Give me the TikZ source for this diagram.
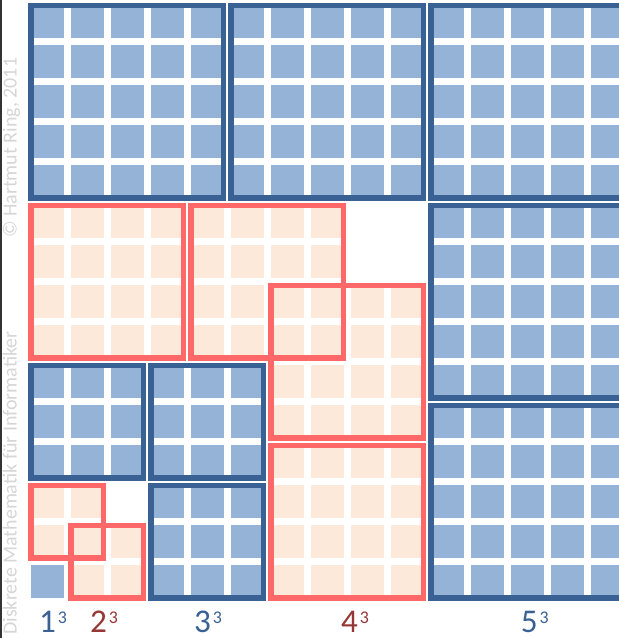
\documentclass[tikz,border=0pt]{standalone}
\usepackage{fontspec}
\setmainfont{Carlito}
\definecolor{bluesq}{RGB}{149,179,215}
\definecolor{bluefr}{RGB}{57,97,148}
\definecolor{redfr}{RGB}{255,104,104}
\definecolor{peach}{RGB}{253,233,217}
\definecolor{redlbl}{RGB}{149,55,53}
\definecolor{lightgr}{RGB}{214,214,214}
\newcommand{\sqcells}[4]{%
  \foreach \i in {1,...,#3}{\foreach \j in {1,...,#3}{%
    \fill[#4] ({#1+\i-1+0.0833},{#2+\j-1+0.0833}) rectangle ++(0.8333,0.8333);}}}
\newcommand{\sqframe}[4]{%
  \draw[framestyle,#4] ({#1+0.095},{#2+0.095}) rectangle ({#1+#3-0.095},{#2+#3-0.095});}
\tikzset{
  framestyle/.style={line width=0.14cm},
  lbl/.style={inner sep=0pt,anchor=base west,font=\fontsize{23.6pt}{28pt}\selectfont},
  side/.style={inner sep=0pt,anchor=base west,rotate=90,text=lightgr,font=\fontsize{14.2pt}{17pt}\selectfont}
}
\newcommand{\cubelbl}[1]{#1\hspace{0.05cm}\raisebox{0.225cm}{\fontsize{12.7pt}{15pt}\selectfont 3}}
\begin{document}
\begin{tikzpicture}
\useasboundingbox (-0.6825,-0.9075) rectangle (14.7925,15.0425);
\clip (-0.6825,-0.9075) rectangle (14.7925,15.0425);
\fill[white] (-0.6825,-0.9075) rectangle (14.7925,15.0425);
% left edge line
\fill[black!80] (-0.6825,-0.9075) rectangle (-0.6425,15.0425);
% red cells
\sqcells{0}{6}{4}{peach}
\sqcells{4}{6}{4}{peach}
\sqcells{6}{4}{4}{peach}
\sqcells{6}{0}{4}{peach}
\sqcells{0}{1}{2}{peach}
\sqcells{1}{0}{2}{peach}
% blue cells
\sqcells{0}{10}{5}{bluesq}
\sqcells{5}{10}{5}{bluesq}
\sqcells{10}{10}{5}{bluesq}
\sqcells{10}{5}{5}{bluesq}
\sqcells{10}{0}{5}{bluesq}
\sqcells{0}{3}{3}{bluesq}
\sqcells{3}{3}{3}{bluesq}
\sqcells{3}{0}{3}{bluesq}
\sqcells{0}{0}{1}{bluesq}
% frames
\sqframe{0}{10}{5}{bluefr}
\sqframe{5}{10}{5}{bluefr}
\sqframe{10}{10}{5}{bluefr}
\sqframe{10}{5}{5}{bluefr}
\sqframe{10}{0}{5}{bluefr}
\sqframe{0}{3}{3}{bluefr}
\sqframe{3}{3}{3}{bluefr}
\sqframe{3}{0}{3}{bluefr}
\sqframe{0}{6}{4}{redfr}
\sqframe{4}{6}{4}{redfr}
\sqframe{6}{4}{4}{redfr}
\sqframe{6}{0}{4}{redfr}
\sqframe{0}{1}{2}{redfr}
\sqframe{1}{0}{2}{redfr}
% labels
\node[lbl,text=bluefr] (l1) at (0.29,-0.7825) {\cubelbl{1}};
\node[lbl,text=redlbl] (l2) at (1.565,-0.7825) {\cubelbl{2}};
\node[lbl,text=bluefr] (l3) at (4.165,-0.7825) {\cubelbl{3}};
\node[lbl,text=redlbl] (l4) at (7.84,-0.7825) {\cubelbl{4}};
\node[lbl,text=bluefr] (l5) at (12.33,-0.7825) {\cubelbl{5}};
% side texts
\node[side] (dm) at (-0.265,-0.8325) {Diskrete Mathematik für Informatiker};
\node[side] (cr) at (-0.265,9.09) {© Hartmut Ring, 2011};
\end{tikzpicture}
\end{document}
